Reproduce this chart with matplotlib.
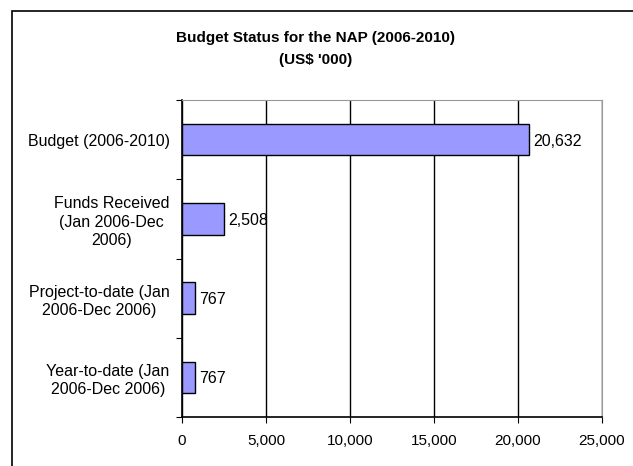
import matplotlib.pyplot as plt
from matplotlib.patches import Rectangle
from matplotlib.ticker import FuncFormatter

plt.rcParams['font.family'] = ['Liberation Sans', 'DejaVu Sans']

# data
categories = ["Budget (2006-2010)",
              "Funds Received\n(Jan 2006-Dec\n2006)",
              "Project-to-date (Jan\n2006-Dec 2006)",
              "Year-to-date (Jan\n2006-Dec 2006)"]
values = [20632, 2508, 767, 767]
x_ticks = [0, 5000, 10000, 15000, 20000, 25000]

W, H = 633, 466
fig = plt.figure(figsize=(W / 100, H / 100), dpi=100)

# outer chart frame (bottom/right run off the image)
fig.patches.append(Rectangle((12 / W, -0.1), 1.2, 1.1 - 11 / H,
                             transform=fig.transFigure, fill=False,
                             edgecolor='black', linewidth=1.2))

left, right, top, bottom = 182, 602, 100, 417
ax = fig.add_axes([left / W, 1 - bottom / H, (right - left) / W, (bottom - top) / H])

pos = list(range(len(categories)))
ax.barh(pos, values, height=0.4, color='#9999FF', edgecolor='black',
        linewidth=1, zorder=3)
for p, v in zip(pos, values):
    ax.annotate(f"{v:,}", (v, p), xytext=(3, -1), textcoords='offset points',
                va='center', ha='left', fontsize=11.5)

ax.set_ylim(len(categories) - 0.5, -0.5)
ax.set_xlim(0, 25000)
ax.set_xticks(x_ticks)
ax.xaxis.set_major_formatter(FuncFormatter(lambda x, _: f"{int(x):,}"))
ax.tick_params(axis='x', direction='out', length=4, labelsize=11, pad=8)

# category boundary ticks, labels in between
ax.set_yticks([i + 0.5 for i in range(-1, len(categories))])
ax.set_yticklabels([])
ax.tick_params(axis='y', which='major', direction='out', length=4)
ax.set_yticks(pos, minor=True)
ax.set_yticklabels(categories, minor=True, fontsize=11.5)
ax.tick_params(axis='y', which='minor', length=0, pad=9)
for lab in ax.get_yticklabels(minor=True):
    lab.set_multialignment('center')
    lab.set_linespacing(1.3)

ax.grid(axis='x', color='black', linewidth=1, zorder=0)
for s in ['top', 'right']:
    ax.spines[s].set_color('#999999')
for s in ['left', 'bottom']:
    ax.spines[s].set_color('black')
    ax.spines[s].set_linewidth(1.2)

fig.text(316 / W, 1 - 49 / H, "Budget Status for the NAP (2006-2010)\n(US$ '000)",
         ha='center', va='center', fontsize=11, fontweight='bold', linespacing=1.7)

fig.savefig("out.png", dpi=100)
